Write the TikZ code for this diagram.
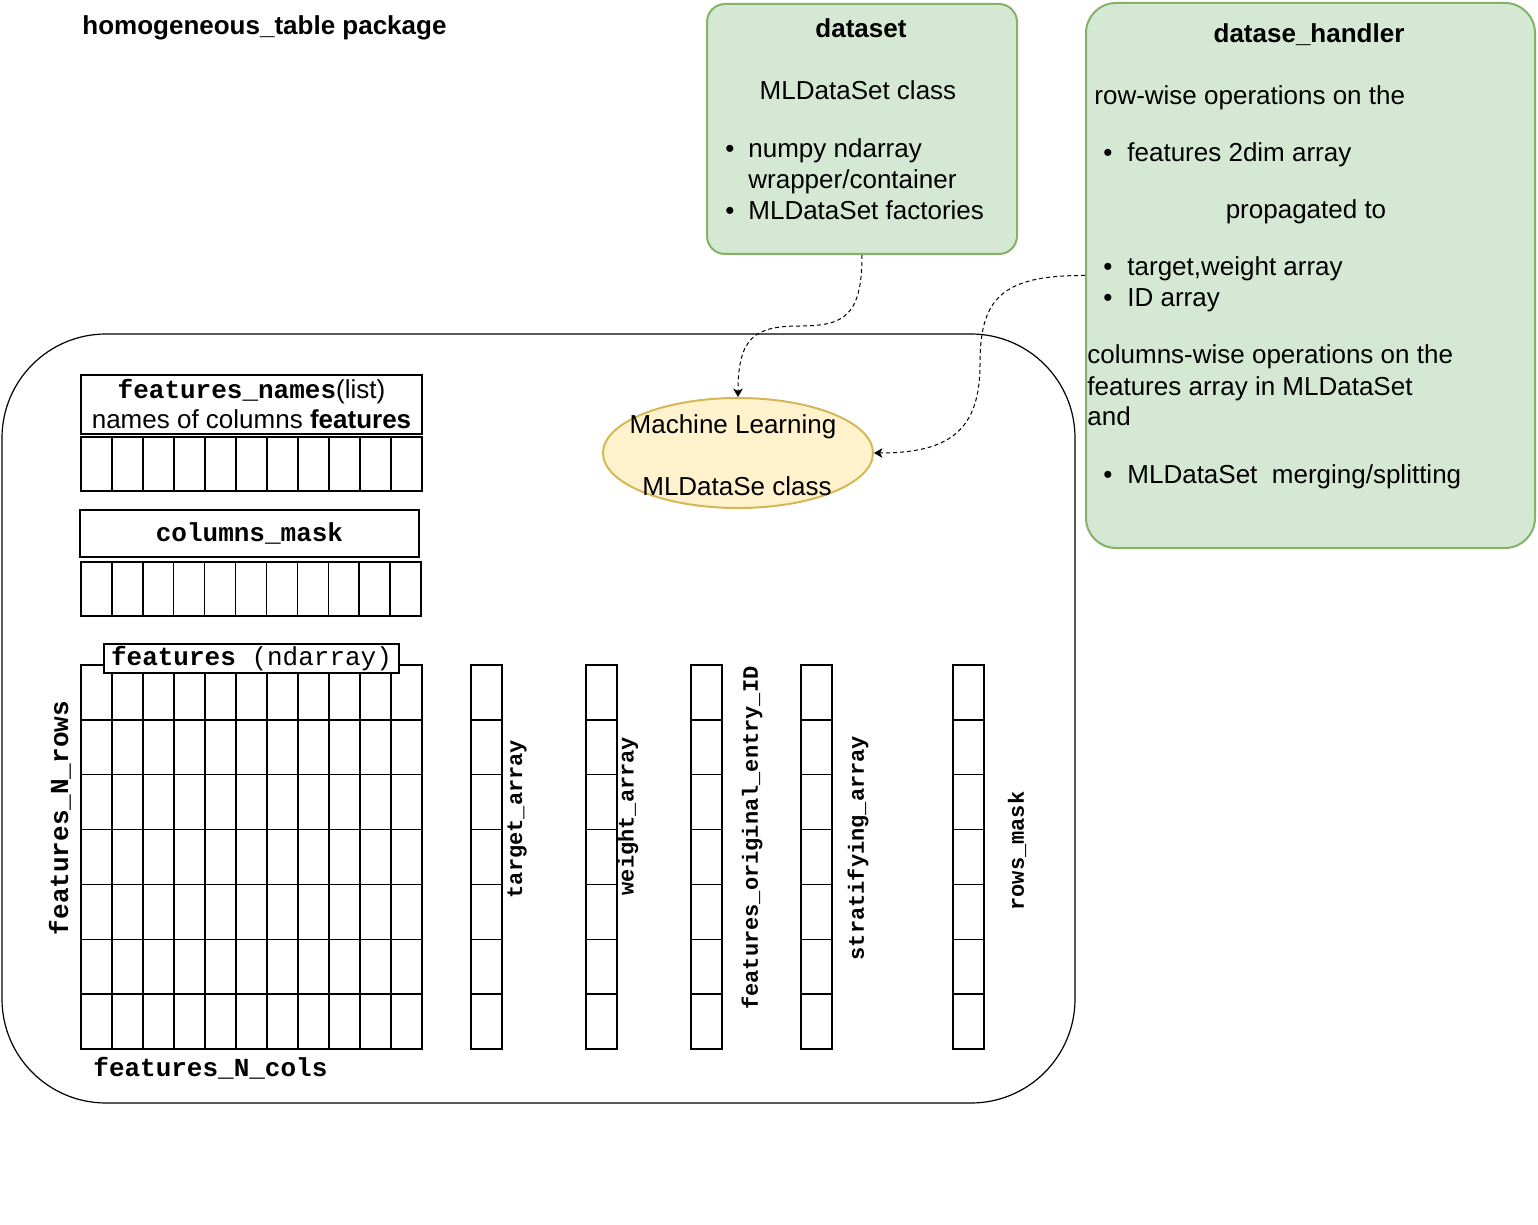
\documentclass[tikz,border=0pt]{standalone}
\usepackage{fontspec}
\setmainfont{Liberation Sans}
\setmonofont{Liberation Mono}
\usetikzlibrary{arrows.meta,shapes.geometric}
\definecolor{gfill}{HTML}{D5E8D4}
\definecolor{gdraw}{HTML}{82B366}
\definecolor{yfill}{HTML}{FFF2CC}
\definecolor{ydraw}{HTML}{D6B656}
\begin{document}
\begin{tikzpicture}[x=0.5pt,y=-0.5pt,
  lbl/.style={inner sep=0pt, font=\fontsize{13}{15.5}\selectfont},
  blbl/.style={lbl, font=\fontsize{13}{15.5}\selectfont\bfseries},
  mono/.style={inner sep=0pt, font=\fontsize{13}{15}\selectfont\ttfamily\bfseries},
  monos/.style={inner sep=0pt, font=\fontsize{11}{13}\selectfont\ttfamily\bfseries},
  greenbox/.style={draw=gdraw, fill=gfill, line width=1pt, inner sep=0pt},
  cell/.style={line width=0.7pt},
  hdrbox/.style={draw, line width=0.7pt, inner sep=0pt, fill=white},
  conn/.style={dashed, dash pattern=on 2pt off 1.5pt, line width=0.5pt, -{Stealth[length=4.2pt,width=4.8pt,inset=1.2pt]}}
]
\useasboundingbox (0,0) rectangle (1538,1225);

% title
\node[blbl, anchor=base west] (title) at (82,35) {homogeneous\_table package};

% outer rounded container
\draw[line width=0.6pt, rounded corners=52pt] (2,334) rectangle (1075,1103);

% dataset box
\node[greenbox, rounded corners=9pt, minimum width=155pt, minimum height=125pt] (ds) at (862,129) {};
\node[blbl, anchor=base] (dst) at (861,38) {dataset};
\node[lbl, anchor=base] (dsc) at (858,100) {MLDataSet class};
\node[lbl, anchor=base] (dsb1) at (730,158) {•};
\node[lbl, anchor=base west] (ds1) at (748,158) {numpy ndarray};
\node[lbl, anchor=base west] (ds2) at (748,189) {wrapper/container};
\node[lbl, anchor=base] (dsb2) at (730,220) {•};
\node[lbl, anchor=base west] (ds3) at (748,220) {MLDataSet factories};

% handler box
\node[greenbox, rounded corners=15pt, minimum width=224.5pt, minimum height=272.5pt] (dh) at (1310.5,275.5) {};
\node[blbl, anchor=base] (dht) at (1309,43) {datase\_handler};
\node[lbl, anchor=base west] (dh1) at (1094,105) {row-wise operations on the};
\node[lbl, anchor=base] (dhb1) at (1108,162) {•};
\node[lbl, anchor=base west] (dh2) at (1127,162) {features 2dim array};
\node[lbl, anchor=base] (dh3) at (1306,219) {propagated to};
\node[lbl, anchor=base] (dhb2) at (1108,276) {•};
\node[lbl, anchor=base west] (dh4) at (1127,276) {target,weight array};
\node[lbl, anchor=base] (dhb3) at (1108,307) {•};
\node[lbl, anchor=base west] (dh5) at (1127,307) {ID array};
\node[lbl, anchor=base west] (dh6) at (1087,364) {columns-wise operations on the};
\node[lbl, anchor=base west] (dh7) at (1087,395) {features array in MLDataSet};
\node[lbl, anchor=base west] (dh8) at (1087,426) {and};
\node[lbl, anchor=base] (dhb4) at (1108,483) {•};
\node[lbl, anchor=base west] (dh9) at (1127,483) {MLDataSet\ \ merging/splitting};

% ellipse
\node[ellipse, draw=ydraw, fill=yfill, line width=1pt, minimum width=135pt, minimum height=55pt, inner sep=0pt] (ml) at (738,453) {};
\node[lbl, anchor=base] (ml1) at (733,433) {Machine Learning};
\node[lbl, anchor=base] (ml2) at (737,495) {MLDataSe class};

% connectors
\draw[conn] (ds.south) .. controls (862,315) and (845,326) .. (800,326)
            .. controls (755,326) and (738,337) .. (ml.north);
\draw[conn] (dh.west) .. controls (1000,275) and (980,300) .. (980,364)
            .. controls (980,430) and (950,453) .. (ml.east);

% features_names header and row
\node[hdrbox, minimum width=170.5pt, minimum height=29.5pt, align=center,
      font=\fontsize{13}{15}\selectfont] (fn) at (251.5,404.5)
      {{\ttfamily\bfseries features\_names}(list)\\names of columns \textbf{features}};
\draw[cell] (81,437) rectangle (422,491);
\foreach \i in {1,...,10} \draw[cell] ({81+\i*31},437) -- ({81+\i*31},491);

% columns_mask header and row
\node[hdrbox, mono, minimum width=169.5pt, minimum height=23.5pt] (cm) at (249.5,533.5) {columns\_mask};
\draw[cell] (81,562) rectangle (421,616);
\foreach \i in {1,...,10} \draw[cell] ({81+\i*340/11},562) -- ({81+\i*340/11},616);

% features grid
\draw[cell] (81,665) rectangle (422,1049);
\foreach \i in {1,...,10} \draw[cell] ({81+\i*31},665) -- ({81+\i*31},1049);
\foreach \j in {1,...,6} \draw[cell] (81,{665+\j*384/7}) -- (422,{665+\j*384/7});
\node[hdrbox, minimum width=147.5pt, minimum height=14.5pt,
      font=\fontsize{13}{15}\selectfont\ttfamily] (fh) at (251.5,658.5)
      {\textbf{features} (ndarray)};

% single-column arrays
\foreach \x in {471,586,691,801,953} {
  \draw[cell] (\x,665) rectangle ({\x+31},1049);
  \foreach \j in {1,...,6} \draw[cell] (\x,{665+\j*384/7}) -- ({\x+31},{665+\j*384/7});
}

% labels
\node[mono, rotate=90] (nrows) at (60,818) {features\_N\_rows};
\node[mono, anchor=base west] (ncols) at (93,1076) {features\_N\_cols};
\node[monos, rotate=90] (ta) at (517,819) {target\_array};
\node[monos, rotate=90] (wa) at (628,816) {weight\_array};
\node[monos, rotate=90] (oid) at (752,838) {features\_original\_entry\_ID};
\node[monos, rotate=90] (sa) at (858,848) {stratifying\_array};
\node[monos, rotate=90] (rm) at (1017,851) {rows\_mask};
\end{tikzpicture}
\end{document}
